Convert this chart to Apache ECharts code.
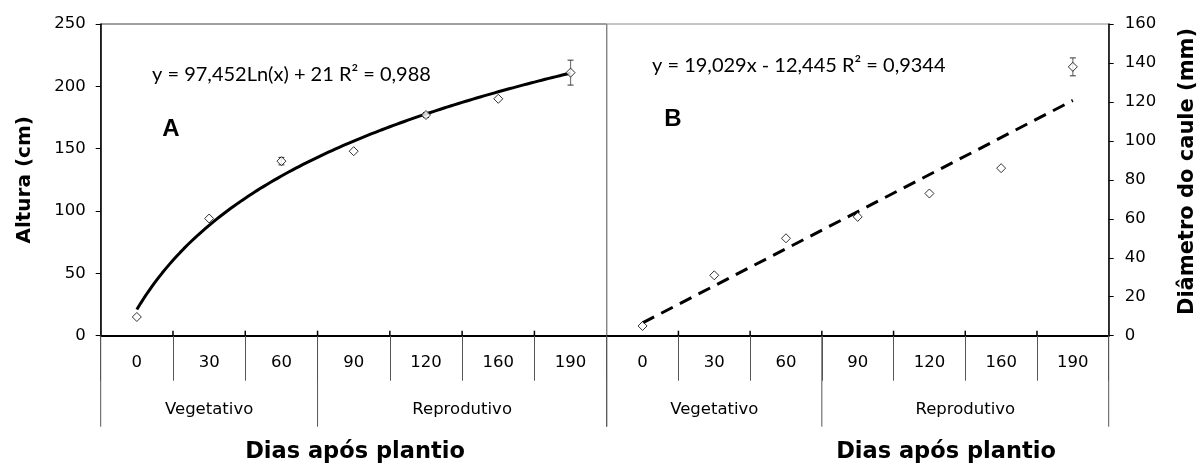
<!DOCTYPE html>
<html>
<head>
<meta charset="utf-8">
<script src="https://cdn.jsdelivr.net/npm/echarts@6/dist/echarts.min.js"></script>
<style>
html,body{margin:0;padding:0;background:#fff;}
#chart{width:1202px;height:468px;}
</style>
</head>
<body>
<div id="chart"></div>
<script>
// ---- data ----
const categories = ['0', '30', '60', '90', '120', '160', '190'];
const groupLabels = ['Vegetativo', 'Reprodutivo'];
const alturaValues = [15, 94, 140, 148, 177, 190, 211];
const alturaErrors = [0, 0, 3, 0, 2, 0, 10];
const diametroValues = [5, 31, 50, 61, 73, 86, 138];
const diametroErrors = [0, 0, 0, 0, 0, 0, 4.6];
const alturaTicks = [0, 50, 100, 150, 200, 250];
const diametroTicks = [0, 20, 40, 60, 80, 100, 120, 140, 160];
// trendline coefficients as printed on the chart
const trendA = { a: 97.452, b: 21 };
const trendB = { a: 19.029, b: -12.445 };
const equationA = 'y = 97,452Ln(x) + 21 R² = 0,988';
const equationB = 'y = 19,029x - 12,445 R² = 0,9344';
const panelLetters = ['A', 'B'];
const yTitles = ['Altura (cm)', 'Diâmetro do caule (mm)'];
const xTitle = 'Dias após plantio';

// ---- build ----
const pos = categories.map((c, i) => i + 1);
const ptsA = pos.map((x, i) => [x, alturaValues[i], alturaErrors[i]]);
const ptsB = pos.map((x, i) => [x, diametroValues[i], diametroErrors[i]]);
const curveA = [];
for (let k = 0; k <= 120; k++) {
  const x = 1 + k * 6 / 120;
  curveA.push([x, trendA.a * Math.log(x) + trendA.b]);
}
const lineB = [[1, trendB.a * 1 + trendB.b], [7, trendB.a * 7 + trendB.b]];

const FONT = 'DejaVu Sans';
const chart = echarts.init(document.getElementById('chart'), null, { renderer: 'canvas' });

function catAxis(gi) {
  return {
    type: 'category', gridIndex: gi, data: categories, position: 'bottom', boundaryGap: true,
    axisLine: { show: true, lineStyle: { color: '#000', width: 2 } },
    axisTick: { show: true, interval: 0, alignWithLabel: false, length: 45, lineStyle: { color: '#555', width: 1 } },
    axisLabel: { interval: 0, margin: 19, fontSize: 16.5, fontFamily: FONT, color: '#000', hideOverlap: false },
    splitLine: { show: false }, z: 5
  };
}
function valAxis(gi) {
  return { type: 'value', gridIndex: gi, min: 0.5, max: 7.5, show: false, splitLine: { show: false } };
}
function errSeries(xi, yi, data) {
  return {
    type: 'custom', xAxisIndex: xi, yAxisIndex: yi, data: data.filter(d => d[2] > 0), z: 3,
    renderItem: function (params, api) {
      const x = api.value(0), y = api.value(1), e = api.value(2);
      const top = api.coord([x, y + e]);
      const bot = api.coord([x, y - e]);
      const st = { stroke: '#333', lineWidth: 1 };
      return {
        type: 'group', children: [
          { type: 'line', shape: { x1: top[0], y1: top[1], x2: bot[0], y2: bot[1] }, style: { stroke: '#777', lineWidth: 1.2 } },
          { type: 'line', shape: { x1: top[0] - 3, y1: top[1], x2: top[0] + 3, y2: top[1] }, style: st },
          { type: 'line', shape: { x1: bot[0] - 3, y1: bot[1], x2: bot[0] + 3, y2: bot[1] }, style: st }
        ]
      };
    }
  };
}
function scatter(xi, yi, data) {
  return {
    type: 'scatter', xAxisIndex: xi, yAxisIndex: yi, data: data.map(d => [d[0], d[1]]),
    symbol: 'diamond', symbolSize: 9, z: 4,
    itemStyle: { color: '#fff', borderColor: '#000', borderWidth: 1 }
  };
}

const option = {
  animation: false,
  backgroundColor: '#fff',
  grid: [
    { left: 100.7, top: 24, width: 506, height: 311.7, show: true, borderColor: '#404040', borderWidth: 1, backgroundColor: 'transparent', containLabel: false, outerBoundsMode: 'none' },
    { left: 606.7, top: 24, width: 502, height: 311.7, show: true, borderColor: '#8c8c8c', borderWidth: 1, backgroundColor: 'transparent', containLabel: false, outerBoundsMode: 'none' }
  ],
  xAxis: [catAxis(0), valAxis(0), catAxis(1), valAxis(1)],
  yAxis: [
    {
      type: 'value', gridIndex: 0, position: 'left',
      min: alturaTicks[0], max: alturaTicks[alturaTicks.length - 1], interval: alturaTicks[1] - alturaTicks[0],
      axisLine: { show: true, lineStyle: { color: '#000', width: 1.5 } },
      axisTick: { show: true, length: 5, lineStyle: { color: '#000', width: 1 } },
      axisLabel: { margin: 15, fontSize: 16.5, fontFamily: FONT, color: '#000' },
      splitLine: { show: false },
      name: yTitles[0], nameLocation: 'middle', nameRotate: 90, nameGap: 66,
      nameTextStyle: { fontSize: 20, fontWeight: 'bold', fontFamily: FONT, color: '#000' }
    },
    {
      type: 'value', gridIndex: 1, position: 'right',
      min: diametroTicks[0], max: diametroTicks[diametroTicks.length - 1], interval: diametroTicks[1] - diametroTicks[0],
      axisLine: { show: true, lineStyle: { color: '#000', width: 1.5 } },
      axisTick: { show: true, length: 5, lineStyle: { color: '#000', width: 1 } },
      axisLabel: { margin: 16, fontSize: 16.5, fontFamily: FONT, color: '#000' },
      splitLine: { show: false }
    }
  ],
  series: [
    { type: 'line', xAxisIndex: 1, yAxisIndex: 0, data: curveA, showSymbol: false, smooth: false, z: 2,
      lineStyle: { color: '#000', width: 3 } },
    errSeries(1, 0, ptsA),
    scatter(1, 0, ptsA),
    { type: 'line', xAxisIndex: 3, yAxisIndex: 1, data: lineB, showSymbol: false, z: 2,
      lineStyle: { color: '#000', width: 3, type: [13, 8] } },
    errSeries(3, 1, ptsB),
    scatter(3, 1, ptsB)
  ]
};
chart.setOption(option);

// ---- annotations placed via axis scales ----
const graphics = [];
[[1, 0], [3, 1]].forEach(function (pair, pi) {
  const xi = pair[0], yi = pair[1];
  const y0 = chart.convertToPixel({ yAxisIndex: yi }, 0);
  [0.5, 3.5, 7.5].forEach(function (v) {
    const x = chart.convertToPixel({ xAxisIndex: xi }, v);
    graphics.push({ type: 'line', shape: { x1: x, y1: y0, x2: x, y2: y0 + 91 }, style: { stroke: '#555', lineWidth: 1 }, z: 10 });
  });
  [1.5, 2.5, 3.5, 4.5, 5.5, 6.5].forEach(function (v) {
    const x = chart.convertToPixel({ xAxisIndex: xi }, v);
    graphics.push({ type: 'line', shape: { x1: x, y1: y0 - 5, x2: x, y2: y0 }, style: { stroke: '#000', lineWidth: 1.5 }, z: 10 });
  });
  [2, 5.5].forEach(function (v, gi) {
    const x = chart.convertToPixel({ xAxisIndex: xi }, v);
    graphics.push({ type: 'text', x: x, y: y0 + 74, style: { text: groupLabels[gi], fontSize: 16.5, fontFamily: FONT, fill: '#000', align: 'center', verticalAlign: 'middle' }, z: 10 });
  });
});
graphics.push({ type: 'text', x: 1187.5, y: 171.5, rotation: Math.PI / 2, style: { text: yTitles[1], fontSize: 21, fontWeight: 'bold', fontFamily: FONT, fill: '#000', align: 'center', verticalAlign: 'middle' } });
graphics.push({ type: 'text', x: 355, y: 452, style: { text: xTitle, fontSize: 22.5, fontWeight: 'bold', fontFamily: FONT, fill: '#000', align: 'center', verticalAlign: 'middle' } });
graphics.push({ type: 'text', x: 946, y: 452, style: { text: xTitle, fontSize: 22.5, fontWeight: 'bold', fontFamily: FONT, fill: '#000', align: 'center', verticalAlign: 'middle' } });
graphics.push({ type: 'text', x: 171, y: 129, style: { text: panelLetters[0], fontSize: 24, fontWeight: 'bold', fontFamily: 'Liberation Sans', fill: '#000', align: 'center', verticalAlign: 'middle' } });
graphics.push({ type: 'text', x: 673, y: 119, style: { text: panelLetters[1], fontSize: 24, fontWeight: 'bold', fontFamily: 'Liberation Sans', fill: '#000', align: 'center', verticalAlign: 'middle' } });
graphics.push({ type: 'text', x: 152, y: 75, style: { text: equationA, fontSize: 20, fontFamily: 'Lato', fill: '#000', align: 'left', verticalAlign: 'middle' } });
graphics.push({ type: 'text', x: 652, y: 66, style: { text: equationB, fontSize: 20, fontFamily: 'Lato', fill: '#000', align: 'left', verticalAlign: 'middle' } });
chart.setOption({ graphic: graphics });
</script>
</body>
</html>
